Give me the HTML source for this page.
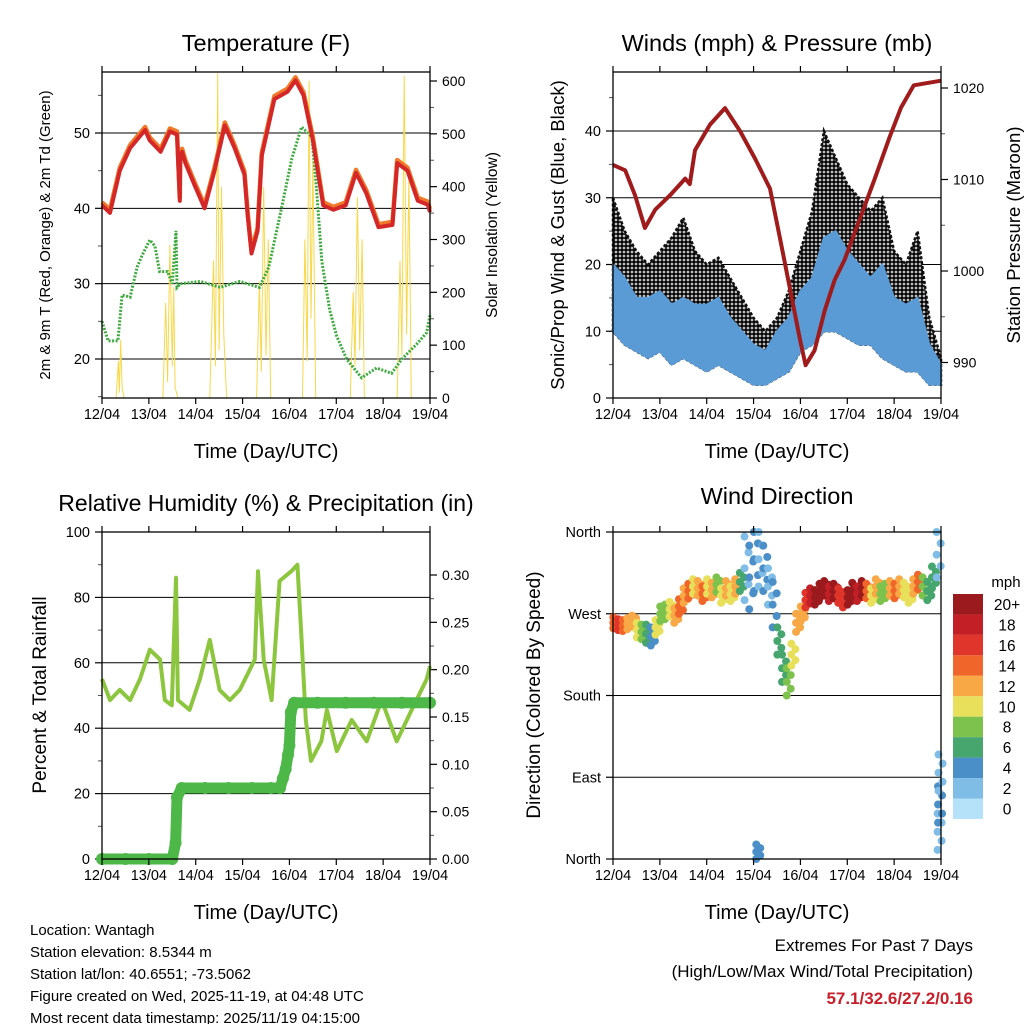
<!DOCTYPE html>
<html><head><meta charset="utf-8"><style>
body{margin:0;background:#fff}
svg{display:block;font-family:"Liberation Sans",Arial,sans-serif}
</style></head><body>
<svg id="s" width="1024" height="1024" viewBox="0 0 1024 1024">
<defs><pattern id="dots" width="4" height="4" patternUnits="userSpaceOnUse"><rect width="4" height="4" fill="#fff"/><circle cx="2" cy="2" r="1.9" fill="#000"/></pattern></defs>
</svg>
<script>
// ---------- DATA ----------
const dayLabels=["12/04","13/04","14/04","15/04","16/04","17/04","18/04","19/04"];
const tempT=[0,0.17,0.38,0.6,0.92,1.02,1.25,1.45,1.6,1.66,1.67,1.71,1.78,1.98,2.19,2.4,2.62,2.83,3.04,3.11,3.19,3.32,3.41,3.68,3.96,4.13,4.3,4.5,4.72,4.94,5.2,5.42,5.64,5.9,6.2,6.3,6.52,6.74,6.95,7.0];
const tempF=[40.4,39.4,45,48,50.4,49,47.5,50.2,49.8,41,47,47.5,46,43,40,45,51,48,44.5,39,34,37,47,54.5,55.5,57,55,49,40.4,39.8,40.4,44.7,42,37.5,37.8,46,45,41,40.5,39.5];
const dewT=[0,0.13,0.34,0.43,0.6,0.75,0.86,1.02,1.13,1.23,1.4,1.5,1.58,1.6,1.67,2.1,2.52,2.94,3.36,3.56,3.83,4.05,4.26,4.48,4.58,4.69,4.86,5.01,5.22,5.54,5.86,6.18,6.4,6.72,6.93,7.0];
const dewF=[25,22.4,22.4,28.5,28.2,32.2,33.8,35.8,35,31.6,31.6,30,37,29.5,30,30.3,29.5,30.3,29.5,32.2,40,46.6,50.8,49.5,42.5,33,26.5,23,20,17.5,18.8,18.1,20,22,23.5,25.8];
const solarT=[0.3,0.35,0.37,0.4,0.43,0.47,1.3,1.36,1.4,1.45,1.5,1.53,1.56,1.62,2.3,2.38,2.42,2.47,2.5,2.55,2.6,2.66,3.3,3.36,3.4,3.45,3.5,3.55,3.6,4.28,4.33,4.38,4.42,4.46,4.5,4.56,5.3,5.36,5.4,5.45,5.5,5.55,5.6,6.3,6.36,6.4,6.45,6.5,6.55,6.6];
const solarV=[0,70,10,110,20,0,0,180,30,290,60,210,20,0,0,260,60,615,90,400,120,0,0,220,50,400,80,300,0,0,300,70,600,150,450,0,0,200,60,380,90,300,0,0,260,80,610,120,420,0];
const windT=[0,0.25,0.5,0.75,1,1.25,1.5,1.75,2,2.25,2.5,2.75,3,3.25,3.5,3.75,4,4.25,4.5,4.75,5,5.25,5.5,5.75,6,6.25,6.5,6.75,7];
const windLo=[10,8,7,6,7,5,6,5,4,5,4,3,2,2,3,4,7,8,10,10,9,8,8,6,5,4,4,2,2];
const windHi=[20,18,15,15,16,14,15,14,14,15,12,10,8,7,10,12,16,18,24,25,22,20,18,20,15,14,15,8,5];
const gustHi=[30,25,22,20,22,24,27,22,20,21,18,15,12,10,12,16,22,28,40,36,32,30,28,30,22,20,25,12,6];
const presT=[0,0.26,0.47,0.68,0.9,1.22,1.54,1.64,1.75,2.07,2.39,2.71,3.03,3.35,3.57,3.78,3.99,4.11,4.3,4.52,4.73,4.94,5.26,5.58,5.9,6.15,6.42,7.0];
const presMb=[1011.6,1011,1008.3,1004.7,1006.7,1008.3,1010.1,1009.5,1013.2,1016,1017.8,1015.3,1012.3,1009,1003.4,998,992.5,989.7,991.3,995.7,999,1001.2,1005.6,1010,1014.6,1017.9,1020.3,1020.8];
const rhT=[0,0.17,0.38,0.6,0.81,1.02,1.24,1.34,1.49,1.58,1.62,1.87,2.09,2.3,2.51,2.73,2.94,3.26,3.33,3.45,3.62,3.79,4.04,4.17,4.26,4.35,4.46,4.68,4.8,5.01,5.33,5.65,5.97,6.29,6.61,6.93,7.0];
const rhPct=[55,48.6,51.7,48.6,55,64,61,48.6,47,86,48.6,45.6,55,67,51.7,48.6,51.7,61,88,61,48.6,85,88,90,67,42.5,30,36,45.6,33,42.5,36,48.6,36,45.6,55,59];
const rainT=[0,0.5,1.0,1.5,1.57,1.6,1.7,2.2,2.7,3.2,3.6,3.8,3.86,3.92,3.97,4.0,4.03,4.1,4.6,5.2,5.8,6.4,7.0];
const rainIn=[0,0,0,0,0.017,0.065,0.075,0.075,0.075,0.075,0.075,0.075,0.085,0.095,0.11,0.12,0.155,0.165,0.165,0.165,0.165,0.165,0.165];
const dirT=[0.05,0.15,0.25,0.35,0.45,0.55,0.65,0.75,0.85,0.95,1.05,1.15,1.25,1.35,1.45,1.55,1.65,1.75,1.85,1.95,2.05,2.15,2.25,2.35,2.45,2.55,2.65,2.75,2.85,2.95,3.05,3.15,3.25,3.35,3.45,3.55,3.65,3.75,3.85,3.95,4.05,4.15,4.25,4.35,4.45,4.55,4.65,4.75,4.85,4.95,5.05,5.15,5.25,5.35,5.45,5.55,5.65,5.75,5.85,5.95,6.05,6.15,6.25,6.35,6.45,6.55,6.65,6.75,6.85,6.95,3.1,6.97,6.98,6.99];
const dirDeg=[260,258,257,259,262,252,250,248,245,255,270,272,275,268,278,290,295,300,298,292,300,296,302,290,298,292,300,305,320,310,330,330,320,300,280,240,210,195,225,260,270,285,290,288,295,298,292,295,290,285,288,296,292,298,295,290,300,292,295,298,295,300,296,290,300,305,300,295,310,335,8,30,60,95];
const dirSpd=[15,16,14,13,12,10,9,7,4,10,9,8,10,12,14,12,14,11,13,15,10,12,9,11,13,11,12,6,3,4,4,3,4,3,5,6,7,9,10,12,13,16,19,20,20,20,18,20,17,16,20,20,19,20,14,10,12,8,9,12,14,12,10,11,13,14,9,7,6,2,4,3,4,3];
const dirSpread=[6,6,6,6,6,8,8,10,10,8,8,8,8,8,8,8,8,8,8,8,8,8,8,8,8,8,8,10,35,35,35,30,25,20,25,15,15,15,12,10,8,8,8,8,8,8,8,8,8,8,8,8,8,8,8,8,8,8,8,8,8,8,8,8,8,8,10,10,12,25,8,20,20,20];
const barLabels=["20+","18","16","14","12","10","8","6","4","2","0"];
const barColors=["#9a1a1e","#c21f27","#e0352b","#f06529","#f9a846","#e8e05a","#7dc24d","#46a66e","#4b8fc8","#7fbde6","#b5e2f8"];

// ---------- HELPERS ----------
const NS="http://www.w3.org/2000/svg", S=document.getElementById('s');
function el(tag,attrs,parent,text){const e=document.createElementNS(NS,tag);for(const k in attrs)e.setAttribute(k,attrs[k]);if(text!==undefined)e.textContent=text;(parent||S).appendChild(e);return e;}
function txt(x,y,s,size,anchor,parent,extra){const a=Object.assign({x:x,y:y,'font-size':size,'text-anchor':anchor||'middle',fill:'#000'},extra||{});return el('text',a,parent,s);}
function lin(d0,d1,r0,r1){return v=>r0+(v-d0)/(d1-d0)*(r1-r0);}

function panel(name,x0,x1,y0,y1){
  const g=el('g',{},S);
  return {g:g,x0:x0,x1:x1,y0:y0,y1:y1,xs:lin(0,7,x0,x1)};
}
function frame(p){
  el('rect',{x:p.x0,y:p.y0,width:p.x1-p.x0,height:p.y1-p.y0,fill:'none',stroke:'#000','stroke-width':1.3},p.g);
  for(let i=0;i<dayLabels.length;i++){
    const x=p.xs(i);
    el('line',{x1:x,y1:p.y0,x2:x,y2:p.y0-6,stroke:'#000','stroke-width':1.2},p.g);
    el('line',{x1:x,y1:p.y1,x2:x,y2:p.y1+6,stroke:'#000','stroke-width':1.2},p.g);
    const t=txt(x,p.y1+21,dayLabels[i],14.5,'middle',p.g);
    
  }
  const xt=txt((p.x0+p.x1)/2,p.y1+60,"Time (Day/UTC)",20,'middle',p.g);
  
}
function leftAxis(p,ys,ticks,labels,minor,grid,name){
  const g=el('g',{},p.g);
  ticks.forEach((v,i)=>{const y=ys(v);
    if(grid) el('line',{x1:p.x0,y1:y,x2:p.x1,y2:y,stroke:'#000','stroke-width':1},g);
    el('line',{x1:p.x0,y1:y,x2:p.x0-7,y2:y,stroke:'#000','stroke-width':1.2},g);
    txt(p.x0-12,y+5,labels[i],14.5,'end',g);});
  minor.forEach(v=>{const y=ys(v);el('line',{x1:p.x0,y1:y,x2:p.x0-4,y2:y,stroke:'#555','stroke-width':1},g);});
}
function rightAxis(p,ys,ticks,labels,minor,name){
  const g=el('g',{},p.g);
  ticks.forEach((v,i)=>{const y=ys(v);
    el('line',{x1:p.x1,y1:y,x2:p.x1+7,y2:y,stroke:'#000','stroke-width':1.2},g);
    txt(p.x1+12,y+5,labels[i],14,'start',g);});
  minor.forEach(v=>{const y=ys(v);el('line',{x1:p.x1,y1:y,x2:p.x1+4,y2:y,stroke:'#555','stroke-width':1},g);});
}
function vtitle(x,y,s,size,parent,name){const t=txt(0,0,s,size,'middle',parent,{transform:`translate(${x},${y}) rotate(-90)`});return t;}
function path(p,xsArr,ysArr,xf,yf,attrs,name){
  let d='';for(let i=0;i<xsArr.length;i++){d+=(i?'L':'M')+xf(xsArr[i]).toFixed(1)+','+yf(ysArr[i]).toFixed(1);}
  const e=el('path',Object.assign({d:d,fill:'none'},attrs),p.g);return e;
}

// ---------- PANEL 1: Temperature ----------
{
  const p=panel('temperature-panel',102,430,72,398);
  const yT=lin(20,50,359,133), yS=lin(0,600,398,81);
  txt(266,51,"Temperature (F)",23.5,'middle',p.g);
  leftAxis(p,yT,[20,30,40,50],["20","30","40","50"],[15,25,35,45,55],true,'temp-left-axis');
  rightAxis(p,yS,[0,100,200,300,400,500,600],["0","100","200","300","400","500","600"],[50,150,250,350,450,550],'solar-right-axis');
  path(p,solarT,solarV,p.xs,yS,{stroke:'#f7d84a','stroke-width':1},'solar-line');
  path(p,dewT,dewF,p.xs,yT,{stroke:'#3daa3d','stroke-width':3,'stroke-dasharray':'2 1.5'},'dewpoint-line');
  path(p,tempT,tempF.map(v=>v+0.4),p.xs,yT,{stroke:'#f07a2a','stroke-width':4.5,'stroke-linejoin':'round'},'temp-9m-line');
  path(p,tempT,tempF,p.xs,yT,{stroke:'#d42727','stroke-width':4,'stroke-linejoin':'round'},'temp-2m-line');
  frame(p);
  vtitle(50,235,"2m & 9m T (Red, Orange) & 2m Td (Green)",15,p.g,'temp-y-axis-title');
  vtitle(497,235,"Solar Insolation (Yellow)",15.5,p.g,'solar-y-axis-title');
}
// ---------- PANEL 2: Winds ----------
{
  const p=panel('winds-panel',613,941,72,398);
  const yW=lin(0,40,398,131), yP=lin(1000,1020,271,88);
  txt(777,51,"Winds (mph) & Pressure (mb)",23.5,'middle',p.g);
  leftAxis(p,yW,[0,10,20,30,40],["0","10","20","30","40"],[5,15,25,35,45],true,'wind-left-axis');
  rightAxis(p,yP,[990,1010,1020,1000],["990","1010","1020","1000"],[995,1005,1015],'pressure-right-axis');
  let d='';windT.forEach((t,i)=>{d+=(i?'L':'M')+p.xs(t).toFixed(1)+','+yW(gustHi[i]).toFixed(1);});
  for(let i=windT.length-1;i>=0;i--)d+='L'+p.xs(windT[i]).toFixed(1)+','+yW(windLo[i]).toFixed(1);
  const gb=el('path',{d:d+'Z',fill:'url(#dots)',stroke:'#111','stroke-width':2.5,'stroke-dasharray':'3 2'},p.g);
  
  d='';windT.forEach((t,i)=>{d+=(i?'L':'M')+p.xs(t).toFixed(1)+','+yW(windHi[i]).toFixed(1);});
  for(let i=windT.length-1;i>=0;i--)d+='L'+p.xs(windT[i]).toFixed(1)+','+yW(windLo[i]).toFixed(1);
  const wb=el('path',{d:d+'Z',fill:'#5b9bd5',stroke:'#5b9bd5','stroke-width':2},p.g);
  
  path(p,presT,presMb,p.xs,yP,{stroke:'#a01c1c','stroke-width':4,'stroke-linejoin':'round'},'pressure-line');
  frame(p);
  vtitle(564,235,"Sonic/Prop Wind & Gust (Blue, Black)",18.5,p.g,'wind-y-axis-title');
  vtitle(1020,235,"Station Pressure (Maroon)",18.5,p.g,'pressure-y-axis-title');
}
// ---------- PANEL 3: RH ----------
{
  const p=panel('humidity-panel',102,430,532,859);
  const yR=lin(0,100,859,532), yI=lin(0,0.30,859,575);
  txt(266,511,"Relative Humidity (%) & Precipitation (in)",23,'middle',p.g);
  leftAxis(p,yR,[0,20,40,60,80,100],["0","20","40","60","80","100"],[10,30,50,70,90],true,'rh-left-axis');
  rightAxis(p,yI,[0,0.05,0.10,0.15,0.20,0.25,0.30],["0.00","0.05","0.10","0.15","0.20","0.25","0.30"],[0.025,0.075,0.125,0.175,0.225,0.275],'precip-right-axis');
  path(p,rhT,rhPct,p.xs,yR,{stroke:'#8cc63f','stroke-width':4,'stroke-linejoin':'round'},'rh-line');
  path(p,rainT,rainIn,p.xs,yI,{stroke:'#4db848','stroke-width':11,'stroke-linejoin':'round'},'precip-line');
  rainT.forEach((t,i)=>{const c=el('circle',{cx:p.xs(t),cy:yI(rainIn[i]),r:6,fill:'#4db848'},p.g);});
  frame(p);
  vtitle(46,695,"Percent & Total Rainfall",19,p.g,'rh-y-axis-title');
}
// ---------- PANEL 4: Wind Direction ----------
{
  const p=panel('wind-direction-panel',613,941,532,859);
  const yD=lin(0,360,859,532);
  txt(777,504,"Wind Direction",23.5,'middle',p.g);
  leftAxis(p,yD,[0,90,180,270,360],["North","East","South","West","North"],[],true,'direction-left-axis');
  const offs=[-1,-0.5,0,0.5,1];
  dirT.forEach((t,i)=>{
    const ci=10-Math.min(10,Math.floor(dirSpd[i]/2));
    offs.forEach((o,k)=>{
      const c=el('circle',{cx:p.xs(t)+(k%2?2:-2),cy:yD(Math.max(0,Math.min(360,dirDeg[i]+o*dirSpread[i]))),r:4,fill:barColors[ci]},p.g);
      
    });
  });
  frame(p);
  vtitle(540,695,"Direction (Colored By Speed)",19,p.g,'direction-y-axis-title');
  const cb=el('g',{},S);
  txt(1006,587,"mph",15,'middle',cb);
  barColors.forEach((c,i)=>{const y=594+i*20.45;
    const r=el('rect',{x:953,y:y,width:30,height:20.45,fill:c},cb);
    txt(1007,y+16,barLabels[i],15.5,'middle',cb);});
}
// ---------- FOOTER ----------
{
  const g=el('g',{},S);
  ["Location: Wantagh","Station elevation: 8.5344 m","Station lat/lon: 40.6551; -73.5062","Figure created on Wed, 2025-11-19, at 04:48 UTC","Most recent data timestamp: 2025/11/19 04:15:00"].forEach((s,i)=>txt(30,935+i*22,s,15,'start',g));
  const h=el('g',{},S);
  txt(973,951,"Extremes For Past 7 Days",17,'end',h);
  txt(973,977,"(High/Low/Max Wind/Total Precipitation)",17,'end',h);
  txt(973,1004,"57.1/32.6/27.2/0.16",17,'end',h,{fill:'#c8202a','font-weight':'bold'});
}
</script>
</body></html>
